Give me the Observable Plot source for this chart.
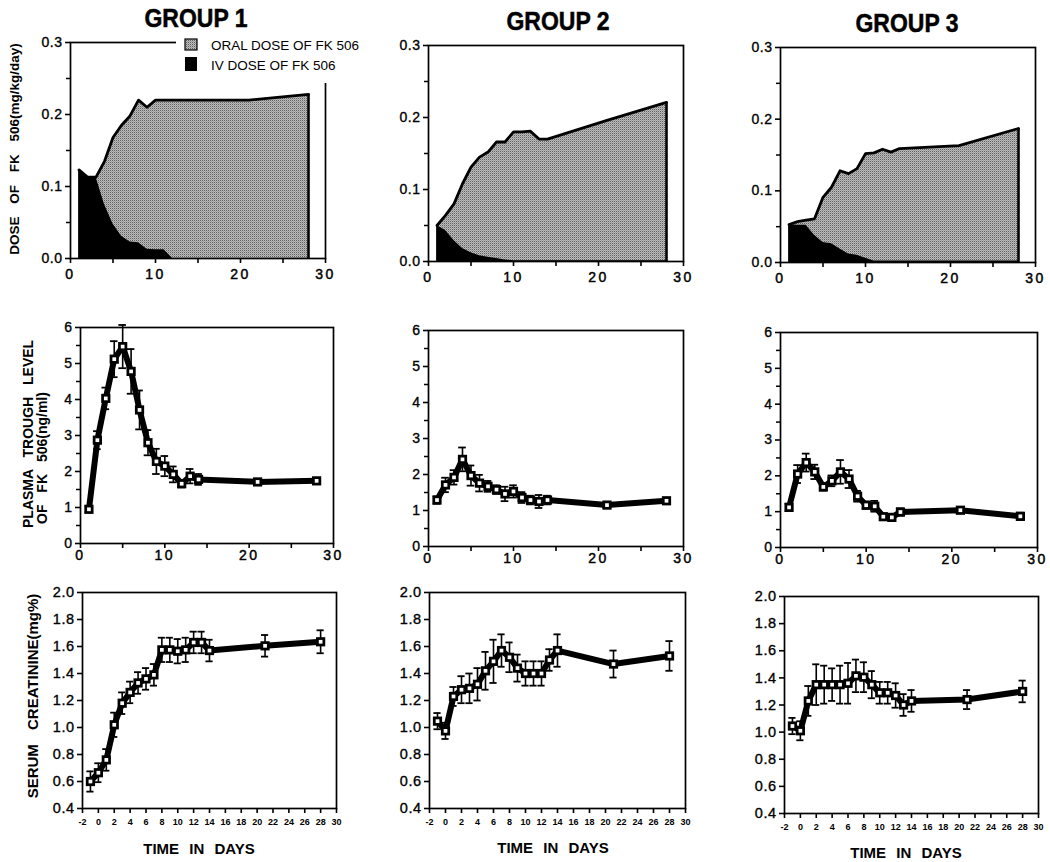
<!DOCTYPE html>
<html>
<head>
<meta charset="utf-8">
<script src="https://cdn.jsdelivr.net/npm/d3@7"></script>
<script src="https://cdn.jsdelivr.net/npm/@observablehq/plot@0.6"></script>
<style>
  body { margin: 0; background: #fff; }
  #root { position: relative; width: 1050px; height: 862px; overflow: hidden; font-family: "Liberation Sans", Arial, sans-serif; background: #fff; }
</style>
</head>
<body>
<svg width="0" height="0" style="position:absolute">
  <defs>
    <pattern id="stip" width="2" height="2" patternUnits="userSpaceOnUse">
      <rect width="2" height="2" fill="#bdbdbd"/>
      <rect width="1" height="1" fill="#5e5e5e"/>
      <rect x="1" y="1" width="1" height="1" fill="#9a9a9a"/>
    </pattern>
  </defs>
</svg>
<div id="root"></div>
<script>
// ---------------- DATA ----------------
const groups = ["GROUP 1", "GROUP 2", "GROUP 3"];

const doseDays = [1,2,3,4,5,6,7,8,9,10,11,12,13,14,21,28];
const g1DoseTotal = [0.123,0.113,0.113,0.135,0.168,0.185,0.198,0.220,0.210,0.220,0.220,0.220,0.220,0.220,0.220,0.228];
const g1DoseIV    = [0.123,0.113,0.113,0.075,0.048,0.031,0.023,0.022,0.013,0.012,0.012,0,0,0,0,0];
const g2DoseTotal = [0.050,0.064,0.080,0.108,0.131,0.145,0.152,0.166,0.166,0.180,0.180,0.181,0.170,0.170,0.196,0.221];
const g2DoseIV    = [0.050,0.043,0.029,0.018,0.012,0.008,0.006,0.004,0.002,0.001,0.001,0.001,0.001,0.001,0.001,0.001];
const g3DoseTotal = [0.053,0.057,0.059,0.061,0.091,0.105,0.128,0.124,0.131,0.152,0.153,0.158,0.154,0.159,0.163,0.187];
const g3DoseIV    = [0.053,0.052,0.052,0.038,0.028,0.026,0.019,0.012,0.010,0.006,0.002,0.002,0.002,0.002,0.002,0.002];

const plasmaDays = [1,2,3,4,5,6,7,8,9,10,11,12,13,14,21,28];
const g1Plasma   = [0.95,2.87,4.03,5.12,5.47,4.78,3.71,2.80,2.28,2.15,1.92,1.66,1.87,1.78,1.71,1.74];
const g1PlasmaSE = [0.08,0.25,0.30,0.50,0.60,0.62,0.54,0.35,0.35,0.28,0.22,0.10,0.20,0.15,0.08,0.08];
const g2Plasma   = [1.29,1.71,1.92,2.42,1.97,1.76,1.67,1.58,1.46,1.53,1.36,1.29,1.25,1.29,1.15,1.27];
const g2PlasmaSE = [0.10,0.20,0.20,0.33,0.28,0.23,0.15,0.12,0.20,0.17,0.15,0.12,0.18,0.12,0.08,0.08];
const g3Plasma   = [1.12,2.05,2.37,2.11,1.69,1.86,2.11,1.91,1.43,1.18,1.15,0.86,0.84,0.99,1.04,0.87];
const g3PlasmaSE = [0.10,0.25,0.25,0.20,0.10,0.15,0.33,0.25,0.15,0.10,0.15,0.05,0.05,0.10,0.08,0.10];

const creatDays = [-1,0,1,2,3,4,5,6,7,8,9,10,11,12,13,14,21,28];
const g1Creat   = [0.600,0.665,0.760,1.020,1.180,1.260,1.330,1.360,1.390,1.575,1.575,1.565,1.575,1.630,1.630,1.570,1.605,1.635];
const g1CreatSE = [0.075,0.070,0.080,0.090,0.080,0.080,0.080,0.080,0.080,0.090,0.090,0.090,0.090,0.080,0.080,0.080,0.080,0.085];
const g2Creat   = [1.047,0.975,1.230,1.280,1.290,1.320,1.420,1.490,1.570,1.520,1.440,1.400,1.400,1.400,1.500,1.570,1.470,1.530];
const g2CreatSE = [0.060,0.060,0.070,0.100,0.110,0.120,0.140,0.160,0.120,0.110,0.100,0.090,0.090,0.090,0.080,0.120,0.100,0.110];
const g3Creat   = [1.045,1.010,1.230,1.350,1.350,1.350,1.350,1.360,1.415,1.405,1.350,1.290,1.290,1.270,1.200,1.230,1.240,1.300];
const g3CreatSE = [0.060,0.070,0.110,0.150,0.140,0.120,0.140,0.150,0.120,0.110,0.100,0.080,0.080,0.090,0.080,0.080,0.070,0.080];

const doseYTicks = [0, 0.1, 0.2, 0.3];
const doseYMinor = [0.05, 0.15, 0.25];
const dayTicks30 = [0, 5, 10, 15, 20, 25, 30];
const plasmaYTicks = [0, 1, 2, 3, 4, 5, 6];
const plasmaYMinor = [0.5, 1.5, 2.5, 3.5, 4.5, 5.5];
const creatYTicks = [0.4, 0.6, 0.8, 1.0, 1.2, 1.4, 1.6, 1.8, 2.0];
const creatXTicks = [-2,0,2,4,6,8,10,12,14,16,18,20,22,24,26,28,30];

const legendLabels = ["ORAL DOSE OF FK 506", "IV DOSE OF FK 506"];
const yTitles = {
  dose: "DOSE OF FK 506(mg/kg/day)",
  plasma1: "PLASMA TROUGH LEVEL",
  plasma2: "OF FK 506(ng/ml)",
  creat: "SERUM CREATININE(mg%)"
};
const xTitle = "TIME IN DAYS";

// ---------------- LAYOUT ----------------
const root = document.getElementById("root");
const FONT = "Liberation Sans, Arial, sans-serif";
const M = {left: 60, right: 14, top: 12, bottom: 34};

function panel(box, xDomain, yDomain, marks, axes, txt) {
  const w = box.x1 - box.x0, h = box.y1 - box.y0;
  const svg = Plot.plot({
    width: w + M.left + M.right,
    height: h + M.top + M.bottom,
    marginLeft: M.left, marginRight: M.right, marginTop: M.top, marginBottom: M.bottom,
    x: {domain: xDomain, axis: null},
    y: {domain: yDomain, axis: null},
    style: {fontFamily: FONT, background: "transparent", overflow: "visible", color: "black"},
    marks: [...marks, Plot.frame({stroke: "black", strokeWidth: 1.7}), ...axes]
  });
  svg.querySelectorAll("text").forEach(t => {
    const g = t.closest("g[aria-label]");
    const lab = g ? g.getAttribute("aria-label") : "";
    const s = lab.indexOf("y-axis") >= 0 ? txt.y : txt.x;
    t.style.fontSize = s.size + "px";
    t.style.fontWeight = s.weight;
    t.style.letterSpacing = s.ls + "px";
    if (s.sw) { t.style.stroke = "black"; t.style.strokeWidth = s.sw + "px"; }
  });
  svg.style.position = "absolute";
  svg.style.left = (box.x0 - M.left) + "px";
  svg.style.top = (box.y0 - M.top) + "px";
  root.appendChild(svg);
}

const txt12 = {x: {size: 14, weight: "normal", ls: 2.5, sw: 0.45}, y: {size: 14, weight: "normal", ls: 0.5, sw: 0.35}};
const txt3 = {x: {size: 9, weight: "bold", ls: 0, sw: 0}, y: {size: 14.5, weight: "normal", ls: 0.5, sw: 0.35}};

function doseMarks(total, iv) {
  const rows = doseDays.map((d, i) => ({day: d, total: total[i], iv: iv[i]}));
  return [
    Plot.areaY(rows, {x: "day", y1: 0, y2: "total", fill: "url(#stip)"}),
    Plot.areaY(rows, {x: "day", y1: 0, y2: "iv", fill: "black"}),
    Plot.lineY(rows, {x: "day", y: "total", stroke: "black", strokeWidth: 2.8}),
    Plot.ruleX([rows[rows.length - 1]], {x: "day", y1: 0, y2: "total", stroke: "black", strokeWidth: 2.6}),
    Plot.ruleX([rows[0]], {x: "day", y1: 0, y2: "total", stroke: "black", strokeWidth: 1.5})
  ];
}

function seriesMarks(days, vals, se, cap) {
  const rows = days.map((d, i) => ({day: d, v: vals[i], e: se[i]}));
  return [
    Plot.ruleX(rows, {x: "day", y1: d => d.v - d.e, y2: d => d.v + d.e, stroke: "black", strokeWidth: 1.6}),
    Plot.ruleY(rows, {y: d => d.v + d.e, x1: d => d.day - cap, x2: d => d.day + cap, stroke: "black", strokeWidth: 1.8}),
    Plot.ruleY(rows, {y: d => d.v - d.e, x1: d => d.day - cap, x2: d => d.day + cap, stroke: "black", strokeWidth: 1.8}),
    Plot.lineY(rows, {x: "day", y: "v", stroke: "black", strokeWidth: 6, strokeLinejoin: "round"}),
    Plot.dot(rows, {x: "day", y: "v", symbol: "square", r: 5.2, fill: "black", stroke: null}),
    Plot.dot(rows, {x: "day", y: "v", symbol: "square", r: 2.1, fill: "white", stroke: null})
  ];
}

function axes30(yTicks, yMinor, yFmt, labelDy) {
  const a = [
    Plot.axisY(yTicks, {anchor: "left", tickSize: 5, tickPadding: 3, tickFormat: yFmt, strokeWidth: 1.6, label: null}),
    Plot.axisX(dayTicks30, {anchor: "bottom", tickSize: 5, tickPadding: labelDy, tickFormat: d => (d % 10 === 0 ? String(d) : ""), strokeWidth: 1.6, label: null})
  ];
  if (yMinor) a.push(Plot.axisY(yMinor, {anchor: "left", tickSize: 4, tickFormat: () => "", strokeWidth: 1.5, label: null}));
  return a;
}

function axesCreat() {
  return [
    Plot.axisY(creatYTicks, {anchor: "left", tickSize: 5, tickPadding: 3, tickFormat: d3.format(".1f"), strokeWidth: 1.6, label: null}),
    Plot.axisX(creatXTicks, {anchor: "bottom", tickSize: 5, tickPadding: 5, tickFormat: d => String(d), strokeWidth: 1.6, label: null})
  ];
}

// Row 1: dose
const doseBoxes = [
  {x0: 70, x1: 325, y0: 42, y1: 258},
  {x0: 428, x1: 683, y0: 45, y1: 261},
  {x0: 780, x1: 1035, y0: 47, y1: 262}
];
const doseData = [[g1DoseTotal, g1DoseIV], [g2DoseTotal, g2DoseIV], [g3DoseTotal, g3DoseIV]];
doseBoxes.forEach((b, i) => panel(b, [0, 30], [0, 0.3], doseMarks(...doseData[i]), axes30(doseYTicks, doseYMinor, d3.format(".1f"), 6), txt12));

// Row 2: plasma
const plasmaBoxes = [
  {x0: 80, x1: 333, y0: 327, y1: 543},
  {x0: 428, x1: 683, y0: 330, y1: 546},
  {x0: 780, x1: 1037, y0: 332, y1: 547}
];
const plasmaData = [[g1Plasma, g1PlasmaSE], [g2Plasma, g2PlasmaSE], [g3Plasma, g3PlasmaSE]];
plasmaBoxes.forEach((b, i) => panel(b, [0, 30], [0, 6], seriesMarks(plasmaDays, ...plasmaData[i], 0.45), axes30(plasmaYTicks, plasmaYMinor, d => String(d), 2), txt12));

// Row 3: creatinine
const creatBoxes = [
  {x0: 82, x1: 336, y0: 592, y1: 808},
  {x0: 429, x1: 685, y0: 592, y1: 808},
  {x0: 784, x1: 1038, y0: 596, y1: 813}
];
const creatData = [[g1Creat, g1CreatSE], [g2Creat, g2CreatSE], [g3Creat, g3CreatSE]];
creatBoxes.forEach((b, i) => panel(b, [-2, 30], [0.4, 2.0], seriesMarks(creatDays, ...creatData[i], 0.45), axesCreat(), txt3));

// ---------------- TEXT OVERLAY ----------------
const ov = d3.select(root).append("svg")
  .attr("width", 1050).attr("height", 862)
  .style("position", "absolute").style("left", "0px").style("top", "0px")
  .style("font-family", FONT);

// group titles
const titlePos = [[196, 27], [558, 30], [907, 32]];
groups.forEach((g, i) => {
  ov.append("text").attr("x", titlePos[i][0]).attr("y", titlePos[i][1])
    .attr("text-anchor", "middle").attr("font-size", 25).attr("font-weight", "bold")
    .attr("stroke", "black").attr("stroke-width", 0.5)
    .attr("textLength", 103).attr("lengthAdjust", "spacingAndGlyphs").text(g);
});

// legend (white block hides part of frame, as in the original)
const lg = ov.append("g");
lg.append("rect").attr("x", 176).attr("y", 28).attr("width", 200).attr("height", 55).attr("fill", "white");
lg.append("rect").attr("x", 185).attr("y", 39).attr("width", 12).attr("height", 11).attr("fill", "url(#stip)").attr("stroke", "black").attr("stroke-width", 1.2);
lg.append("rect").attr("x", 185).attr("y", 57).attr("width", 12).attr("height", 14).attr("fill", "black");
lg.append("text").attr("x", 211).attr("y", 50).attr("font-size", 13.5).text(legendLabels[0]);
lg.append("text").attr("x", 211).attr("y", 70).attr("font-size", 13.5).text(legendLabels[1]);

// y titles
function vtext(x, y, txt, size, anchor, ws) {
  ov.append("text").attr("transform", `translate(${x},${y}) rotate(-90)`)
    .attr("text-anchor", anchor).attr("font-size", size).attr("font-weight", "bold")
    .style("word-spacing", ws + "px").text(txt);
}
vtext(19, 149, yTitles.dose, 13.5, "middle", 9);
vtext(33, 528, yTitles.plasma1, 14, "start", 8);
vtext(47, 524, yTitles.plasma2, 14, "start", 8);
vtext(38, 696, yTitles.creat, 15, "middle", 10);

// x titles
const xt = [[199, 854], [553, 853], [906, 858]];
xt.forEach(p => {
  ov.append("text").attr("x", p[0]).attr("y", p[1]).attr("text-anchor", "middle")
    .attr("font-size", 15).attr("font-weight", "bold").style("word-spacing", "6px").text(xTitle);
});
</script>
</body>
</html>
